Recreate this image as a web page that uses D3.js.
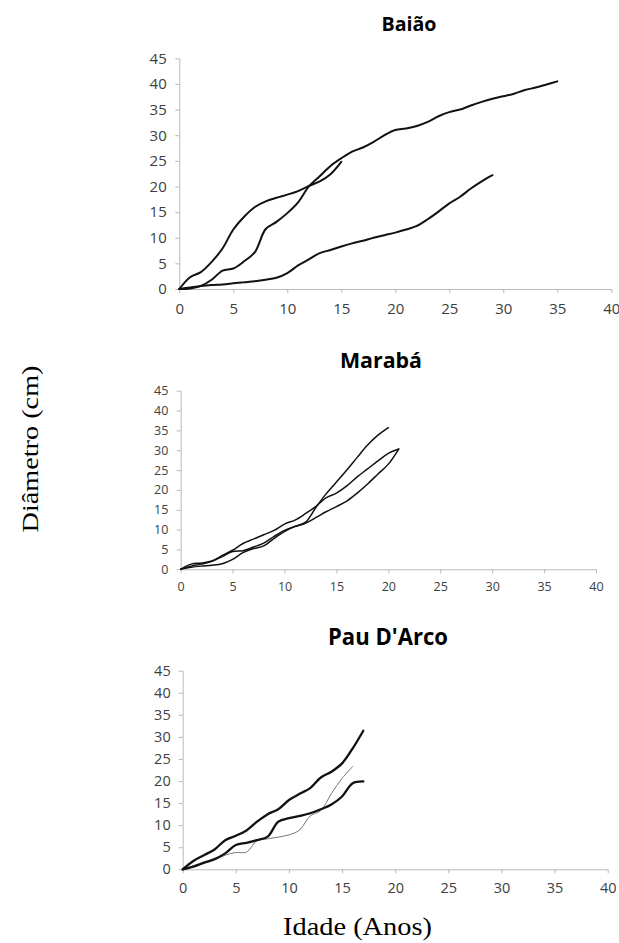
<!DOCTYPE html>
<html>
<head>
<meta charset="utf-8">
<script src="https://cdn.jsdelivr.net/npm/d3@7"></script>
<style>
  html, body { margin: 0; padding: 0; background: #fff; }
  svg { display: block; }
</style>
</head>
<body>
<svg id="chart" width="619" height="943"></svg>
<script>
// ---------------- DATA (diameter in cm by age in years, starting at age 0) ----------------
const xTicks = [0, 5, 10, 15, 20, 25, 30, 35, 40];
const yTicks = [0, 5, 10, 15, 20, 25, 30, 35, 40, 45];

const panelTitles = ["Baião", "Marabá", "Pau D'Arco"];

// Baião
const baiaoA = [0, 2.3, 3.3, 5.3, 7.9, 11.6, 14.1, 16, 17.1, 17.8, 18.4, 19.1, 20.1, 21, 22.4, 24.8];
const baiaoB = [0, 0.1, 0.6, 1.8, 3.6, 4.0, 5.4, 7.2, 11.7, 13.1, 14.8, 16.9, 20, 22, 24, 25.5,
                26.8, 27.6, 28.7, 30, 31, 31.3, 31.8, 32.6, 33.7, 34.5, 35, 35.8, 36.5, 37.1,
                37.6, 38.1, 38.8, 39.3, 39.9, 40.5];
const baiaoC = [0, 0.3, 0.6, 0.8, 0.9, 1.1, 1.3, 1.5, 1.8, 2.2, 3.1, 4.6, 5.8, 7, 7.6, 8.3,
                8.9, 9.4, 10, 10.5, 11, 11.6, 12.3, 13.6, 15.1, 16.7, 18, 19.6, 21, 22.2];

// Marabá
const marabaA = [0, 0.5, 0.8, 1, 1.4, 2.5, 4.2, 5.2, 5.9, 7.8, 9.5, 10.8, 11.8, 15.5, 19, 22,
                 25, 28.2, 31.3, 33.8, 35.7];
const marabaB = [0, 1.3, 1.6, 2.1, 3.5, 4.8, 6.5, 7.6, 8.7, 9.8, 11.4, 12.4, 14, 15.8, 18, 19.2,
                 21, 23.3, 25.3, 27.3, 29.2, 30.3];
const marabaC = [0, 0.8, 1.3, 2, 3.2, 4.5, 4.7, 5.6, 6.6, 8.3, 9.8, 10.8, 11.6, 13, 14.5, 15.8,
                 17.2, 19.2, 21.5, 24, 26.5, 30.3];

// Pau D'Arco
const pauA = [0, 1.9, 3.2, 4.5, 6.6, 7.6, 8.8, 10.8, 12.5, 13.6, 15.7, 17.1, 18.4, 20.8, 22.1, 24, 27.4, 31.4];
const pauB = [0, 0.6, 1.5, 2.3, 3.6, 5.5, 6, 6.6, 7.4, 10.8, 11.6, 12.1, 12.7, 13.6, 14.7, 16.5, 19.5, 19.9];
const pauC = [0, 0.8, 1.4, 2.1, 3.2, 3.8, 3.9, 6.5, 6.9, 7.3, 7.8, 8.9, 12.1, 13.3, 17.2, 20.6, 23.3];

const yAxisLabel = "Diâmetro (cm)";
const xAxisLabel = "Idade (Anos)";

// ---------------- LAYOUT ----------------
const layout = [
  { x0: 179.3, x1: 611.3, y0: 289, y1: 58.3, titleX: 409, titleY: 30.5, titleSize: 20, titleLen: 55,
    tickSize: 15, xLabelDy: 25, yLabelGap: 12.6,
    series: [{ v: baiaoA, w: 2, c: "#111" }, { v: baiaoB, w: 2, c: "#111" }, { v: baiaoC, w: 2, c: "#111" }] },
  { x0: 180.7, x1: 596, y0: 569.3, y1: 390.7, titleX: 381, titleY: 368, titleSize: 22, titleLen: 82,
    tickSize: 12.5, xLabelDy: 21.5, yLabelGap: 12.4,
    series: [{ v: marabaA, w: 1.5, c: "#111" }, { v: marabaB, w: 1.5, c: "#111" }, { v: marabaC, w: 1.5, c: "#111" }] },
  { x0: 182.7, x1: 607.7, y0: 869.3, y1: 670.7, titleX: 388, titleY: 645, titleSize: 22.5, titleLen: 120,
    tickSize: 14.5, xLabelDy: 23.5, yLabelGap: 12,
    series: [{ v: pauC, w: 1, c: "#777" }, { v: pauA, w: 2.3, c: "#111" }, { v: pauB, w: 2.3, c: "#111" }] }
];

const svg = d3.select("#chart");
const axisColor = "#b8b8b8";
const textColor = "#404040";

layout.forEach((p, i) => {
  const x = d3.scaleLinear().domain([0, 40]).range([p.x0, p.x1]);
  const y = d3.scaleLinear().domain([0, 45]).range([p.y0, p.y1]);
  const g = svg.append("g");

  // title
  g.append("text")
    .attr("x", p.titleX).attr("y", p.titleY)
    .attr("text-anchor", "middle")
    .attr("font-family", "'Open Sans', sans-serif")
    .attr("font-weight", "bold")
    .attr("font-size", p.titleSize)
    .attr("textLength", p.titleLen)
    .attr("lengthAdjust", "spacingAndGlyphs")
    .attr("fill", "#000")
    .text(panelTitles[i]);

  // x axis
  const xa = g.append("g")
    .attr("transform", `translate(0,${p.y0})`)
    .call(d3.axisBottom(x).tickValues(xTicks).tickSize(4).tickSizeOuter(0).tickPadding(0));
  xa.select(".domain").attr("stroke", axisColor);
  xa.selectAll(".tick line").attr("stroke", axisColor);
  xa.selectAll(".tick text")
    .attr("y", p.xLabelDy).attr("dy", 0)
    .attr("font-family", "'Open Sans', sans-serif")
    .attr("font-size", p.tickSize)
    .attr("fill", textColor);

  // y axis
  const ya = g.append("g")
    .attr("transform", `translate(${p.x0},0)`)
    .call(d3.axisLeft(y).tickValues(yTicks).tickSize(4).tickSizeOuter(0).tickPadding(0));
  ya.select(".domain").attr("stroke", axisColor);
  ya.selectAll(".tick line").attr("stroke", axisColor);
  ya.selectAll(".tick text")
    .attr("x", -p.yLabelGap)
    .attr("font-family", "'Open Sans', sans-serif")
    .attr("font-size", p.tickSize)
    .attr("fill", textColor);

  // lines
  const line = d3.line()
    .x((d, k) => x(k))
    .y(d => y(d))
    .curve(d3.curveCatmullRom.alpha(0.5));

  p.series.forEach(s => {
    g.append("path")
      .datum(s.v)
      .attr("d", line)
      .attr("fill", "none")
      .attr("stroke", s.c)
      .attr("stroke-width", s.w)
      .attr("stroke-linejoin", "round")
      .attr("stroke-linecap", "round");
  });
});

// shared axis titles
svg.append("text")
  .attr("transform", "translate(38,449) rotate(-90)")
  .attr("text-anchor", "middle")
  .attr("font-family", "'Liberation Serif', 'Times New Roman', serif")
  .attr("font-size", 24)
  .attr("textLength", 167)
  .attr("lengthAdjust", "spacingAndGlyphs")
  .attr("fill", "#000")
  .text(yAxisLabel);

svg.append("text")
  .attr("x", 357.5).attr("y", 935)
  .attr("text-anchor", "middle")
  .attr("font-family", "'Liberation Serif', 'Times New Roman', serif")
  .attr("font-size", 25)
  .attr("textLength", 149)
  .attr("lengthAdjust", "spacingAndGlyphs")
  .attr("fill", "#000")
  .text(xAxisLabel);
</script>
</body>
</html>
